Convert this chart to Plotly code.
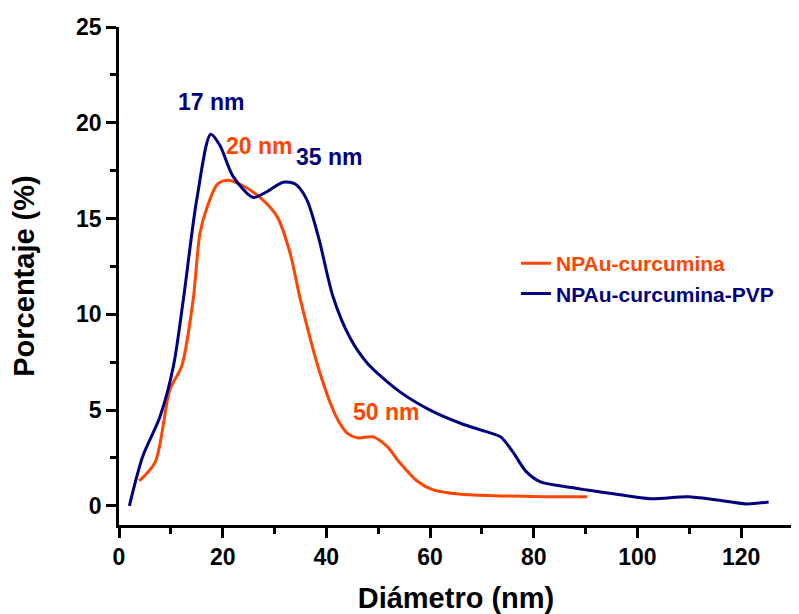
import plotly.graph_objects as go

# NPAu-curcumina (orange)
x_cur = [3.9, 7.0, 9.8, 12.1, 14.3, 15.6, 17.0, 19.0, 21.1, 24.0, 27.2, 30.5, 33.0, 35.0, 38.8, 42.0, 44.0, 46.0, 49.0, 51.7, 54.2, 57.5, 60.6, 66.0, 73.6, 82.0, 90.3]
y_cur = [1.3, 2.3, 6.05, 7.3, 10.75, 14.2, 15.6, 16.8, 17.0, 16.7, 16.1, 15.1, 13.2, 10.75, 6.9, 4.6, 3.8, 3.55, 3.6, 3.1, 2.24, 1.3, 0.83, 0.6, 0.52, 0.48, 0.47]

# NPAu-curcumina-PVP (navy)
x_pvp = [2.0, 4.6, 7.9, 10.5, 12.4, 15.0, 17.7, 19.5, 22.0, 25.9, 28.5, 31.7, 34.0, 36.2, 38.5, 41.3, 44.5, 47.9, 54.2, 60.0, 66.0, 70.5, 73.6, 76.0, 78.5, 81.3, 85.0, 90.3, 96.0, 102.5, 109.7, 115.0, 121.0, 125.3]
y_pvp = [0.0, 2.6, 4.65, 7.3, 10.75, 16.0, 19.4, 18.8, 17.2, 16.1, 16.4, 16.9, 16.8, 16.0, 14.0, 10.9, 8.8, 7.45, 5.95, 5.0, 4.3, 3.9, 3.6, 2.8, 1.8, 1.25, 1.05, 0.83, 0.6, 0.37, 0.47, 0.32, 0.1, 0.2]

x_ticks = [0, 20, 40, 60, 80, 100, 120]
y_ticks = [0, 5, 10, 15, 20, 25]

ann_text = ["17 nm", "20 nm", "35 nm", "50 nm"]
ann_x = [17.7, 27.0, 40.5, 51.5]
ann_y = [21.1, 18.8, 18.2, 4.9]

ORANGE = "#FF4500"
NAVY = "#000080"
ann_col = [NAVY, ORANGE, NAVY, ORANGE]
FONT = "Liberation Sans, Arial, sans-serif"

fig = go.Figure()
fig.add_trace(go.Scatter(x=x_cur, y=y_cur, mode="lines",
                         name="<span style='color:%s'><b>NPAu-curcumina</b></span>" % ORANGE,
                         line=dict(color=ORANGE, width=3, shape="spline", smoothing=0.8)))
fig.add_trace(go.Scatter(x=x_pvp, y=y_pvp, mode="lines",
                         name="<span style='color:%s'><b>NPAu-curcumina-PVP</b></span>" % NAVY,
                         line=dict(color=NAVY, width=3, shape="spline", smoothing=0.8)))

for t, x, y, c in zip(ann_text, ann_x, ann_y, ann_col):
    fig.add_annotation(x=x, y=y, text="<b>%s</b>" % t, showarrow=False,
                       font=dict(family=FONT, size=23, color=c))

fig.update_layout(
    width=791, height=606,
    margin=dict(l=111, r=6, t=19, b=89),
    plot_bgcolor="white", paper_bgcolor="white",
    font=dict(family=FONT, size=20, color="black"),
    legend=dict(x=0.589, y=0.566, xanchor="left", yanchor="top",
                bgcolor="rgba(0,0,0,0)", font=dict(family=FONT, size=21),
                tracegroupgap=0),
    showlegend=True,
)
fig.update_xaxes(range=[0, 130], tickmode="array", tickvals=x_ticks,
                 ticktext=["<b>%d</b>" % v for v in x_ticks],
                 ticks="outside", ticklen=10, tickwidth=2.5, tickcolor="black",
                 minor=dict(tickmode="linear", tick0=0, dtick=10, ticks="outside", ticklen=6,
                            tickwidth=2.5, tickcolor="black", showgrid=False),
                 showline=True, linewidth=2.5, linecolor="black", showgrid=False, zeroline=False,
                 automargin=False,
                 tickfont=dict(family=FONT, size=23, color="black"),
                 title=dict(text="<b>Diámetro (nm)</b>", font=dict(family=FONT, size=29), standoff=19))
fig.update_yaxes(range=[-1, 25], tickmode="array", tickvals=y_ticks,
                 ticktext=["<b>%d</b>" % v for v in y_ticks],
                 ticks="outside", ticklen=10, tickwidth=2.5, tickcolor="black",
                 minor=dict(tickmode="linear", tick0=0, dtick=2.5, ticks="outside", ticklen=6,
                            tickwidth=2.5, tickcolor="black", showgrid=False),
                 showline=True, linewidth=2.5, linecolor="black", showgrid=False, zeroline=False,
                 automargin=False,
                 tickfont=dict(family=FONT, size=23, color="black"),
                 title=dict(text="<b>Porcentaje (%)</b>", font=dict(family=FONT, size=29), standoff=40))

fig.write_html("out.html")
